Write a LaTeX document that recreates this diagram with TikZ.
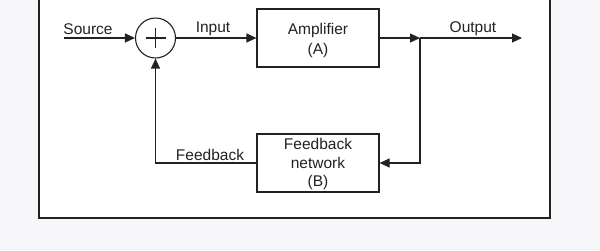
\documentclass[tikz,border=0pt]{standalone}
\usepackage{fontspec}
\setmainfont{Liberation Sans}
\usetikzlibrary{arrows.meta}
\definecolor{bgc}{HTML}{F7F7FA}
\definecolor{ink}{HTML}{222222}
\begin{document}
\begin{tikzpicture}[x=1pt,y=-1pt,
  line width=1.2pt, draw=ink,
  blockbox/.style={draw=ink, line width=1.2pt, minimum width=122pt, minimum height=58pt, inner sep=0pt},
  boxtext/.style={align=center, font=\fontsize{15.5}{18.5}\selectfont, text=ink, inner sep=0pt},
  sumcirc/.style={draw=ink, line width=1.1pt, circle, minimum size=40pt, inner sep=0pt},
  lbl/.style={font=\fontsize{15.5}{18}\selectfont, text=ink, inner sep=0pt},
  arr/.style={draw=ink, -{Triangle[length=10pt,width=9pt]}}]
\useasboundingbox (0,0) rectangle (600,250);
\fill[bgc] (0,0) rectangle (600,250);
\fill[white] (39,-5) rectangle (550,218);
\draw[ink, line width=1.4pt] (39,-5) -- (39,218) -- (550,218) -- (550,-5);
\node[blockbox] (amp) at (318,38) {};
\node[boxtext] (amptxt) at (318,40) {Amplifier\\[1.5pt](A)};
\node[blockbox] (fb) at (318,163) {};
\node[boxtext] (fbtxt) at (318,164) {Feedback\\network\\(B)};
\node[sumcirc] (sum) at (155.5,38) {};
\coordinate (src) at (64,38);
\coordinate (junc) at (420,38);
\coordinate (out) at (522,38);
\draw[ink, line width=1.1pt] ([xshift=-10pt]sum.center) -- ([xshift=10pt]sum.center);
\draw[ink, line width=1.1pt] ([yshift=-10pt]sum.center) -- ([yshift=10pt]sum.center);
\draw[arr] (src) -- (sum.west);
\draw[arr] (sum.east) -- (amp.west);
\draw[arr] (amp.east) -- (junc);
\draw[arr] (junc) -- (out);
\draw[arr] (junc) |- (fb.east);
\draw[arr] (fb.west) -| (sum.south);
\node[lbl] (lsrc) at (88,29) {Source};
\node[lbl] (lin) at (213,29) {Input};
\node[lbl] (lout) at (473,29) {Output};
\node[lbl] (lfb) at (210,155) {Feedback};
\end{tikzpicture}
\end{document}
